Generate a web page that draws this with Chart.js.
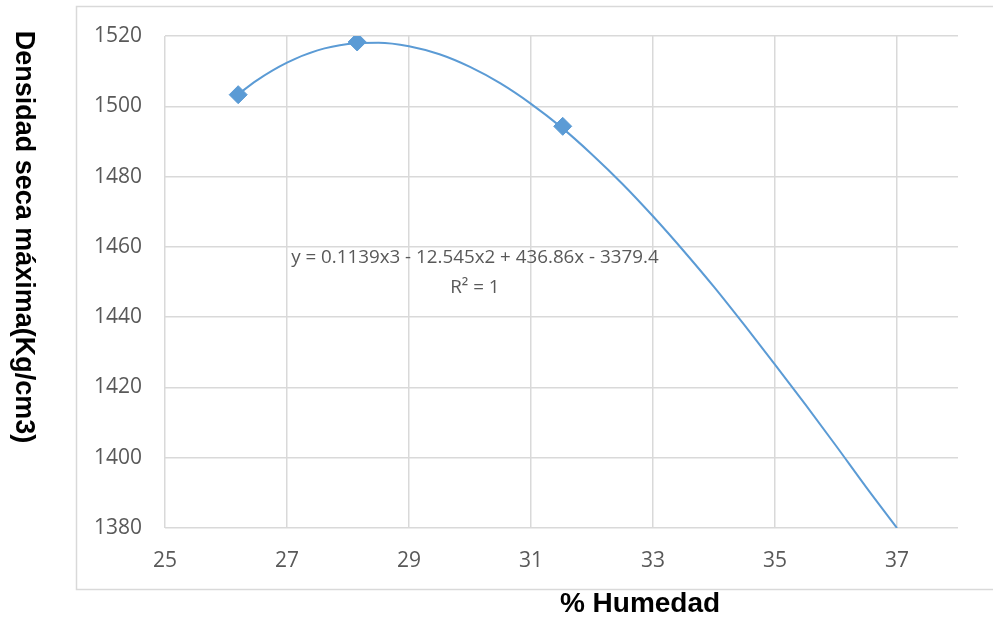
<!DOCTYPE html>
<html lang="es">
<head>
<meta charset="UTF-8">
<title>Densidad seca máxima vs % Humedad</title>
<script src="https://cdn.jsdelivr.net/npm/chart.js@4.4.1/dist/chart.umd.min.js"></script>
<style>
  html, body { margin: 0; padding: 0; background: #fff; }
</style>
</head>
<body>
<canvas id="proctor-chart" width="993" height="621"></canvas>
<script>
// Puntos del ensayo
const humedad = [26.2, 28.15, 31.52];
const densidad = [1503.3, 1518.3, 1494.3];

// Línea de tendencia polinómica (grado 3)
const tendHumedad = [26.2, 26.5, 27, 27.5, 28, 28.5, 29, 29.5, 30, 30.5, 31, 31.5,
  32, 32.5, 33, 33.5, 34, 34.5, 35, 35.5, 36, 36.5, 37];
const tendDensidad = [1503.4, 1507.3, 1512.4, 1515.9, 1517.7, 1518.1, 1517.1, 1514.8,
  1511.2, 1506.5, 1500.7, 1494.0, 1486.3, 1477.9, 1468.7, 1458.9, 1448.6, 1437.7,
  1426.5, 1415.1, 1403.4, 1391.5, 1380];

const ticksX = [25, 27, 29, 31, 33, 35, 37];
const ticksY = [1380, 1400, 1420, 1440, 1460, 1480, 1500, 1520];

const ecuacion = "y = 0.1139x3 - 12.545x2 + 436.86x - 3379.4";
const r2 = "R² = 1";
const tituloX = "% Humedad";
const tituloY = "Densidad seca máxima(Kg/cm3)";

const azul = "#5B9BD5";
const gris = "#D9D9D9";
const textoGris = "#595959";

Chart.defaults.font.family = '"Open Sans", sans-serif';

// marco, ecuación y títulos
const decoracion = {
  id: "decoracion",
  beforeDraw(chart) {
    const ctx = chart.ctx;
    ctx.save();
    ctx.fillStyle = "#fff";
    ctx.fillRect(0, 0, chart.width, chart.height);
    ctx.strokeStyle = gris;
    ctx.lineWidth = 1.5;
    ctx.strokeRect(76.5, 6.5, chart.width, 583);
    ctx.restore();
  },
  afterDraw(chart) {
    const { ctx, scales } = chart;
    ctx.save();
    ctx.fillStyle = textoGris;
    ctx.font = '18.8px "Open Sans"';
    ctx.textAlign = "center";
    ctx.textBaseline = "middle";
    const ex = scales.x.getPixelForValue(30.08);
    const ey = scales.y.getPixelForValue(1457.0);
    ctx.fillText(ecuacion, ex, ey);
    ctx.fillText(r2, ex, ey + 30);

    ctx.fillStyle = "#000";
    ctx.font = 'bold 28px "Liberation Sans", Arial';
    ctx.textBaseline = "alphabetic";
    ctx.fillText(tituloX, 640, 612);

    ctx.font = 'bold 27px "Liberation Sans", Arial';
    ctx.translate(16, 237);
    ctx.rotate(Math.PI / 2);
    ctx.fillText(tituloY, 0, 0);
    ctx.restore();
  },
};

const config = {
  type: "scatter",
  data: {
    datasets: [
      {
        label: "Densidad seca",
        data: humedad.map((h, i) => ({ x: h, y: densidad[i] })),
        pointStyle: "rectRot",
        pointRadius: 9,
        pointHoverRadius: 9,
        backgroundColor: azul,
        borderColor: azul,
        borderWidth: 1,
        order: 0,
      },
      {
        label: "Polinómica",
        data: tendHumedad.map((h, i) => ({ x: h, y: tendDensidad[i] })),
        showLine: true,
        pointRadius: 0,
        borderColor: azul,
        borderWidth: 2,
        tension: 0.4,
        cubicInterpolationMode: "monotone",
        order: 1,
      },
    ],
  },
  options: {
    responsive: false,
    animation: false,
    events: [],
    layout: { padding: { left: 0, top: 36, right: 35, bottom: 0 } },
    plugins: {
      legend: { display: false },
      tooltip: { enabled: false },
    },
    scales: {
      x: {
        min: 25,
        max: 38,
        afterBuildTicks: (s) => { s.ticks = ticksX.map((v) => ({ value: v })); },
        afterFit: (s) => { s.height = 93; },
        grid: { color: gris, lineWidth: 1.5, drawTicks: false },
        border: { display: false },
        ticks: { color: textoGris, font: { size: 21 }, padding: 20, callback: (v) => String(v) },
      },
      y: {
        min: 1380,
        max: 1520,
        afterBuildTicks: (s) => { s.ticks = ticksY.map((v) => ({ value: v })); },
        afterFit: (s) => { s.width = 165; },
        grid: { color: gris, lineWidth: 1.5, drawTicks: false },
        border: { display: false },
        ticks: { color: textoGris, font: { size: 21 }, padding: 23, callback: (v) => String(v) },
      },
    },
  },
  plugins: [decoracion],
};

const ctx = document.getElementById("proctor-chart");
const proctorChart = new Chart(ctx, config);
</script>
</body>
</html>
